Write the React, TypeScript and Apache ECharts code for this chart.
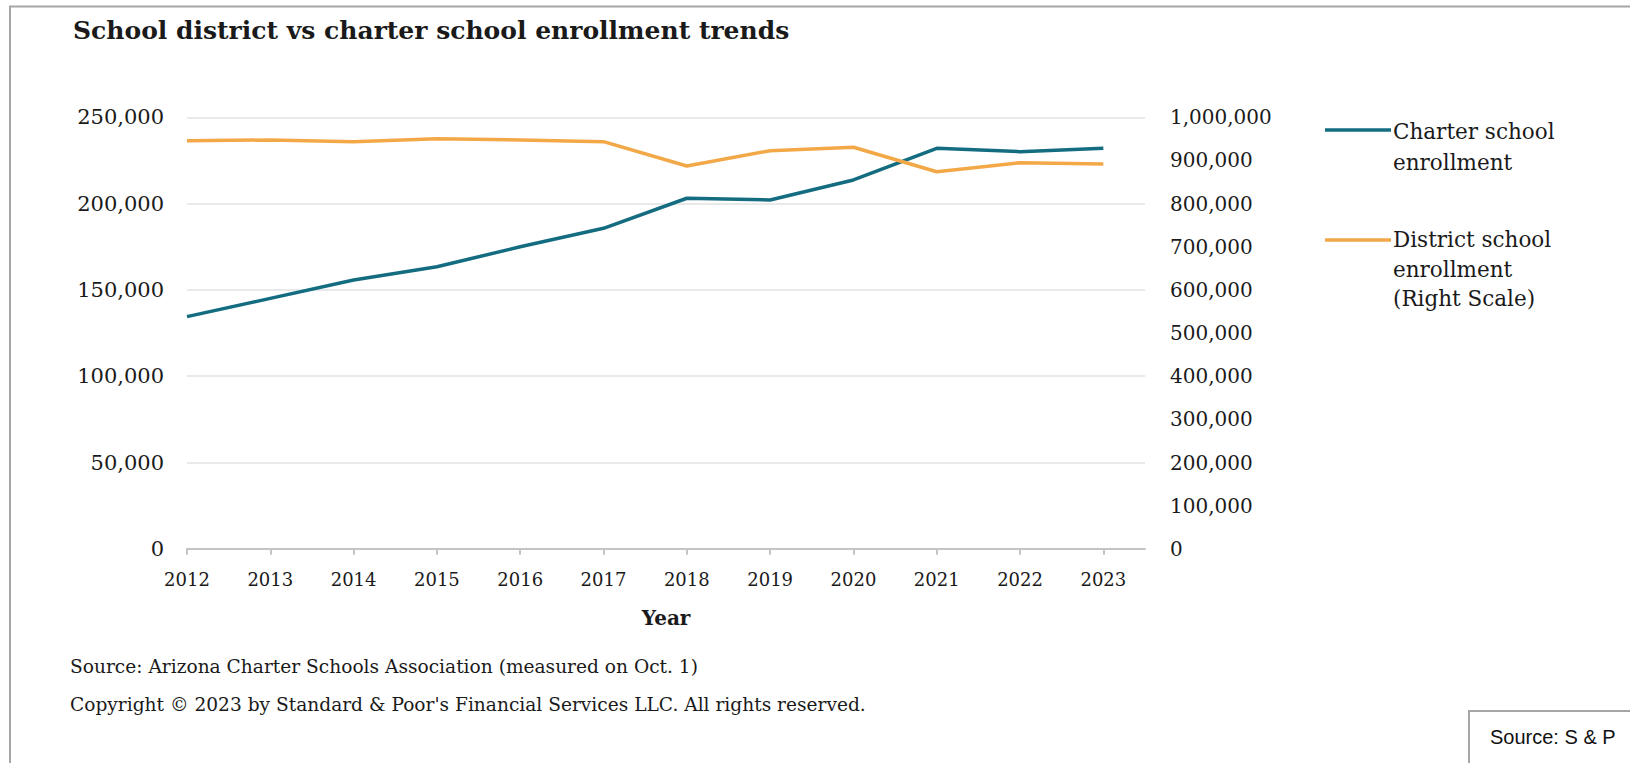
import React, { useEffect, useRef } from "react";
import * as echarts from "echarts";

const years = [2012, 2013, 2014, 2015, 2016, 2017, 2018, 2019, 2020, 2021, 2022, 2023];
const charterEnrollment = [134500, 145100, 155700, 163400, 175000, 185700, 203100, 202100, 213700, 232000, 230100, 232000];
const districtEnrollment = [945800, 947400, 943500, 950400, 947400, 943500, 887100, 922600, 930500, 873900, 894800, 891800];
const leftAxisMax = 250000;
const leftAxisStep = 50000;
const rightAxisMax = 1000000;
const rightAxisStep = 100000;

const charterName = "Charter school enrollment";
const districtName = "District school enrollment (Right Scale)";
const titleText = "School district vs charter school enrollment trends";
const sourceNote = "Source: Arizona Charter Schools Association (measured on Oct. 1)";
const copyrightNote = "Copyright \u00a9 2023 by Standard & Poor's Financial Services LLC. All rights reserved.";
const sourceBox = "Source: S & P";

const TEAL = "#136c80";
const ORANGE = "#f3a847";
const SERIF = "'DejaVu Serif', serif";
const TEXT = "#1a1a1a";

export default function App() {
  const ref = useRef<HTMLDivElement>(null);
  useEffect(() => {
    if (!ref.current) return;
    const chart = echarts.init(ref.current, null, { renderer: "svg" });
    const fmt = (v: number) => Number(v).toLocaleString("en-US");
    chart.setOption({
      animation: false,
      backgroundColor: "#ffffff",
      title: {
        text: titleText,
        left: 68,
        top: 13,
        textStyle: { fontFamily: SERIF, fontWeight: "bold", fontSize: 25, color: TEXT },
      },
      grid: { left: 187, right: 485, top: 117.3, bottom: 214.2, containLabel: false },
      xAxis: {
        type: "value",
        min: 2012,
        max: 2023.5,
        interval: 1,
        axisLine: { show: true, lineStyle: { color: "#c4c4c4", width: 2 } },
        axisTick: { show: true, length: 6, lineStyle: { color: "#c4c4c4", width: 2 }, customValues: years },
        axisLabel: {
          customValues: years,
          formatter: (v: number) => String(v),
          margin: 22,
          fontFamily: SERIF,
          fontSize: 18,
          color: TEXT,
        },
        splitLine: { show: false },
        name: "Year",
        nameLocation: "middle",
        nameGap: 59,
        nameTextStyle: { fontFamily: SERIF, fontWeight: "bold", fontSize: 20, color: TEXT },
      },
      yAxis: [
        {
          type: "value",
          min: 0,
          max: leftAxisMax,
          interval: leftAxisStep,
          position: "left",
          axisLine: { show: false },
          axisTick: { show: false },
          axisLabel: { formatter: fmt, margin: 23, fontFamily: SERIF, fontSize: 21, color: TEXT },
          splitLine: { show: true, lineStyle: { color: "#e9e9e9", width: 2 } },
        },
        {
          type: "value",
          min: 0,
          max: rightAxisMax,
          interval: rightAxisStep,
          position: "right",
          axisLine: { show: false },
          axisTick: { show: false },
          axisLabel: { formatter: fmt, margin: 25, fontFamily: SERIF, fontSize: 20, color: TEXT },
          splitLine: { show: false },
        },
      ],
      series: [
        {
          name: charterName,
          type: "line",
          yAxisIndex: 0,
          data: years.map((y, i) => [y, charterEnrollment[i]]),
          symbol: "none",
          lineStyle: { color: TEAL, width: 3.5 },
          itemStyle: { color: TEAL },
        },
        {
          name: districtName,
          type: "line",
          yAxisIndex: 1,
          data: years.map((y, i) => [y, districtEnrollment[i]]),
          symbol: "none",
          lineStyle: { color: ORANGE, width: 3.5 },
          itemStyle: { color: ORANGE },
        },
      ],
      graphic: [
        {
          type: "rect",
          shape: { x: 10, y: 6.5, width: 1700, height: 900 },
          style: { fill: "none", stroke: "#a6a6a6", lineWidth: 2 },
          silent: true,
        },
        // legend
        {
          type: "line",
          shape: { x1: 1325, y1: 130, x2: 1391, y2: 130 },
          style: { stroke: TEAL, lineWidth: 3.5 },
        },
        {
          type: "text",
          x: 1393,
          y: 115.5,
          style: {
            text: "Charter school\nenrollment",
            font: `21.5px ${SERIF}`,
            fill: TEXT,
            lineHeight: 31,
            verticalAlign: "top",
          },
        },
        {
          type: "line",
          shape: { x1: 1325, y1: 240, x2: 1391, y2: 240 },
          style: { stroke: ORANGE, lineWidth: 3.5 },
        },
        {
          type: "text",
          x: 1393,
          y: 225,
          style: {
            text: "District school\nenrollment\n(Right Scale)",
            font: `21.5px ${SERIF}`,
            fill: TEXT,
            lineHeight: 29.5,
            verticalAlign: "top",
          },
        },
        // footnotes
        {
          type: "text",
          x: 70,
          y: 666,
          style: { text: sourceNote, font: `18.6px ${SERIF}`, fill: TEXT, verticalAlign: "middle" },
        },
        {
          type: "text",
          x: 70,
          y: 704,
          style: { text: copyrightNote, font: `18.6px ${SERIF}`, fill: TEXT, verticalAlign: "middle" },
        },
        // source box
        {
          type: "rect",
          shape: { x: 1469, y: 711, width: 200, height: 100 },
          style: { fill: "#ffffff", stroke: "#a6a6a6", lineWidth: 2 },
        },
        {
          type: "text",
          x: 1490,
          y: 737,
          style: { text: sourceBox, font: `20px 'Liberation Sans', Arial, sans-serif`, fill: "#111111", verticalAlign: "middle" },
        },
      ],
    });
    return () => chart.dispose();
  }, []);
  return (
    <div
      ref={ref}
      style={{ position: "fixed", left: 0, top: 0, width: 1630, height: 763, background: "#ffffff" }}
    />
  );
}
